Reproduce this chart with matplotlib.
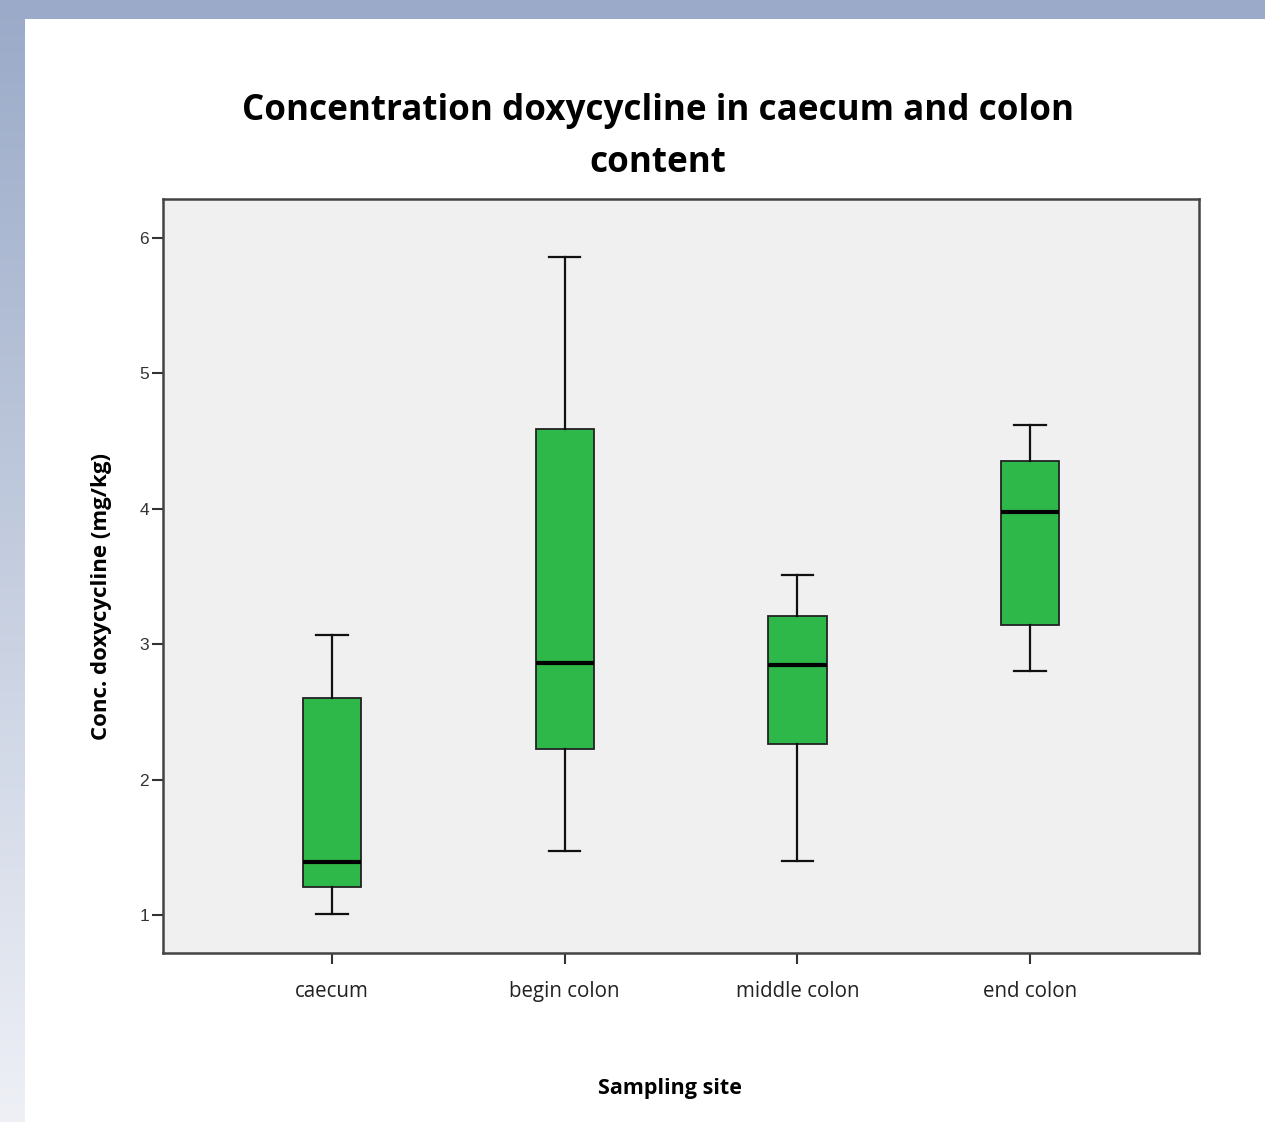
import matplotlib.pyplot as plt
import numpy as np
from matplotlib.colors import LinearSegmentedColormap

# box statistics (whisker low, q1, median, q3, whisker high)
sites = ['caecum', 'begin colon', 'middle colon', 'end colon']
whislo = [1.01, 1.47, 1.40, 2.80]
q1 = [1.21, 2.23, 2.26, 3.14]
med = [1.39, 2.86, 2.85, 3.98]
q3 = [2.60, 4.59, 3.21, 4.35]
whishi = [3.07, 5.86, 3.51, 4.62]
yticks = [1, 2, 3, 4, 5, 6]

fig = plt.figure(figsize=(12.65, 11.22), dpi=100)

# slide background: blue band on top, fading strip on the left
bg = fig.add_axes([0, 0, 1, 1], zorder=-2)
bg.set_xlim(0, 1265)
bg.set_ylim(1122, 0)
bg.axis('off')
cmap = LinearSegmentedColormap.from_list('slide', ['#9aaac8', '#eef0f6'])
grad = np.linspace(0, 1, 256).reshape(-1, 1)
bg.imshow(grad, cmap=cmap, extent=[0, 25, 1122, 0], aspect='auto')
bg.add_patch(plt.Rectangle((0, 0), 1265, 19, color='#9aaac8', lw=0))
bg.add_patch(plt.Rectangle((25, 19), 1240, 1103, color='white', lw=0))

ax = fig.add_axes([0.1289, 0.1506, 0.8190, 0.6720])
ax.set_facecolor('#f0f0f0')

stats = []
for i in range(len(sites)):
    stats.append(dict(label=sites[i], whislo=whislo[i], q1=q1[i], med=med[i],
                      q3=q3[i], whishi=whishi[i], fliers=[]))

ax.bxp(stats, positions=[1, 2, 3, 4], widths=0.25, patch_artist=True,
       showfliers=False,
       boxprops=dict(facecolor='#2eb84a', edgecolor='#222222', linewidth=1.3),
       medianprops=dict(color='black', linewidth=3),
       whiskerprops=dict(color='#111111', linewidth=1.6),
       capprops=dict(color='#111111', linewidth=1.6),
       capwidths=0.135)

ax.set_xlim(0.274, 4.726)
ax.set_ylim(0.72, 6.288)
ax.set_yticks(yticks)
ax.set_yticklabels([str(t) for t in yticks], fontfamily='Liberation Sans',
                   fontsize=12.5, color='#333333')
ax.set_xticks([1, 2, 3, 4])
ax.set_xticklabels(sites, fontfamily='Open Sans', fontsize=14.8, color='#222222')
ax.tick_params(axis='y', length=8, width=1.5, color='#333333', pad=2)
ax.tick_params(axis='x', length=8, width=1.5, color='#333333', pad=12)
for s in ax.spines.values():
    s.set_linewidth(1.8)
    s.set_color('#444444')

ax.set_ylabel('Conc. doxycycline (mg/kg)', fontfamily='Open Sans',
              fontweight='bold', fontsize=16)
ax.yaxis.set_label_coords(-0.049, 0.473)
ax.set_xlabel('Sampling site', fontfamily='Open Sans', fontweight='bold',
              fontsize=15.5)
ax.xaxis.set_label_coords(0.489, -0.166)

fig.text(0.52, 0.878, 'Concentration doxycycline in caecum and colon\ncontent',
         ha='center', va='center', fontfamily='Open Sans', fontweight='bold',
         fontsize=25.2, linespacing=1.6)

fig.savefig('out.png', dpi=100)
